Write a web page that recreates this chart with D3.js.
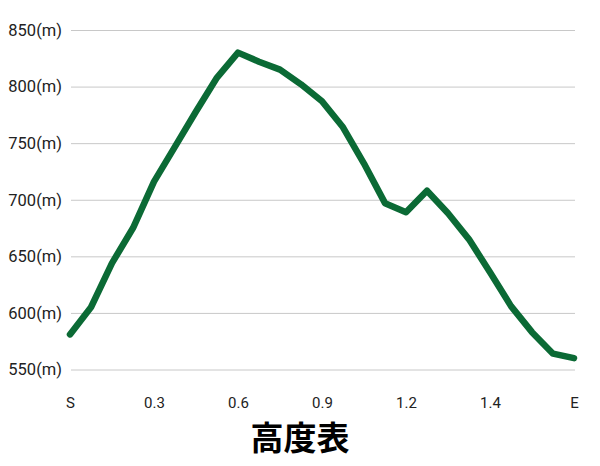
<!DOCTYPE html>
<html>
<head>
<meta charset="utf-8">
<script src="https://cdn.jsdelivr.net/npm/d3@7"></script>
<style>
  body { margin: 0; background: #fff; }
  svg { display: block; }
</style>
</head>
<body>
<div id="chart"></div>
<script>
// distance points along the trail, label shown every 4th point
var distLabels = ["S", "", "", "", "0.3", "", "", "", "0.6", "", "", "", "0.9", "", "", "", "1.2", "", "", "", "1.4", "", "", "", "E"];
var altitude = [581, 605, 644, 675, 716, 747, 778, 808, 830, 822, 815, 802, 787, 764, 732, 697, 689, 708, 688, 665, 636, 606, 583, 564, 560];
var yTicks = [550, 600, 650, 700, 750, 800, 850];
var title = "高度表";

var w = 600, h = 466;
var plotLeft = 71, plotRight = 575, plotTop = 30, plotBottom = 369.5;

var svg = d3.select("#chart")
  .append("svg")
  .attr("width", w)
  .attr("height", h);

var xScale = d3.scalePoint()
  .domain(d3.range(altitude.length))
  .range([plotLeft - 1, plotRight - 1]);

var yScale = d3.scaleLinear()
  .domain([550, 850])
  .range([plotBottom, plotTop]);

// grid lines + y labels
var yAxis = svg.append("g")
  .attr("transform", "translate(" + plotLeft + ",0)")
  .call(d3.axisLeft(yScale)
    .tickValues(yTicks)
    .tickSize(-(plotRight - plotLeft))
    .tickPadding(9)
    .tickFormat(function(d) { return d + "(m)"; }));
yAxis.select(".domain").remove();
yAxis.selectAll("line")
  .attr("stroke", "#c8c8c8")
  .attr("stroke-width", 1);
yAxis.selectAll("text")
  .attr("font-family", "Roboto, sans-serif")
  .attr("font-size", 16.5)
  .attr("fill", "#222");

// x labels
var xAxis = svg.append("g")
  .attr("transform", "translate(0," + plotBottom + ")")
  .call(d3.axisBottom(xScale)
    .tickSize(0)
    .tickPadding(28)
    .tickFormat(function(d) { return distLabels[d]; }));
xAxis.select(".domain").remove();
xAxis.selectAll("text")
  .attr("font-family", "Roboto, sans-serif")
  .attr("font-size", 15)
  .attr("fill", "#222");

// altitude line
var line = d3.line()
  .x(function(d, i) { return xScale(i); })
  .y(function(d) { return yScale(d); });

svg.append("path")
  .datum(altitude)
  .attr("d", line)
  .attr("fill", "none")
  .attr("stroke", "#0b6a35")
  .attr("stroke-width", 6.5)
  .attr("stroke-linejoin", "round")
  .attr("stroke-linecap", "round");

svg.append("text")
  .attr("x", 300)
  .attr("y", 450)
  .attr("text-anchor", "middle")
  .attr("font-family", "'Noto Sans CJK JP', sans-serif")
  .attr("font-weight", "bold")
  .attr("font-size", 33)
  .attr("fill", "#000")
  .text(title);
</script>
</body>
</html>
